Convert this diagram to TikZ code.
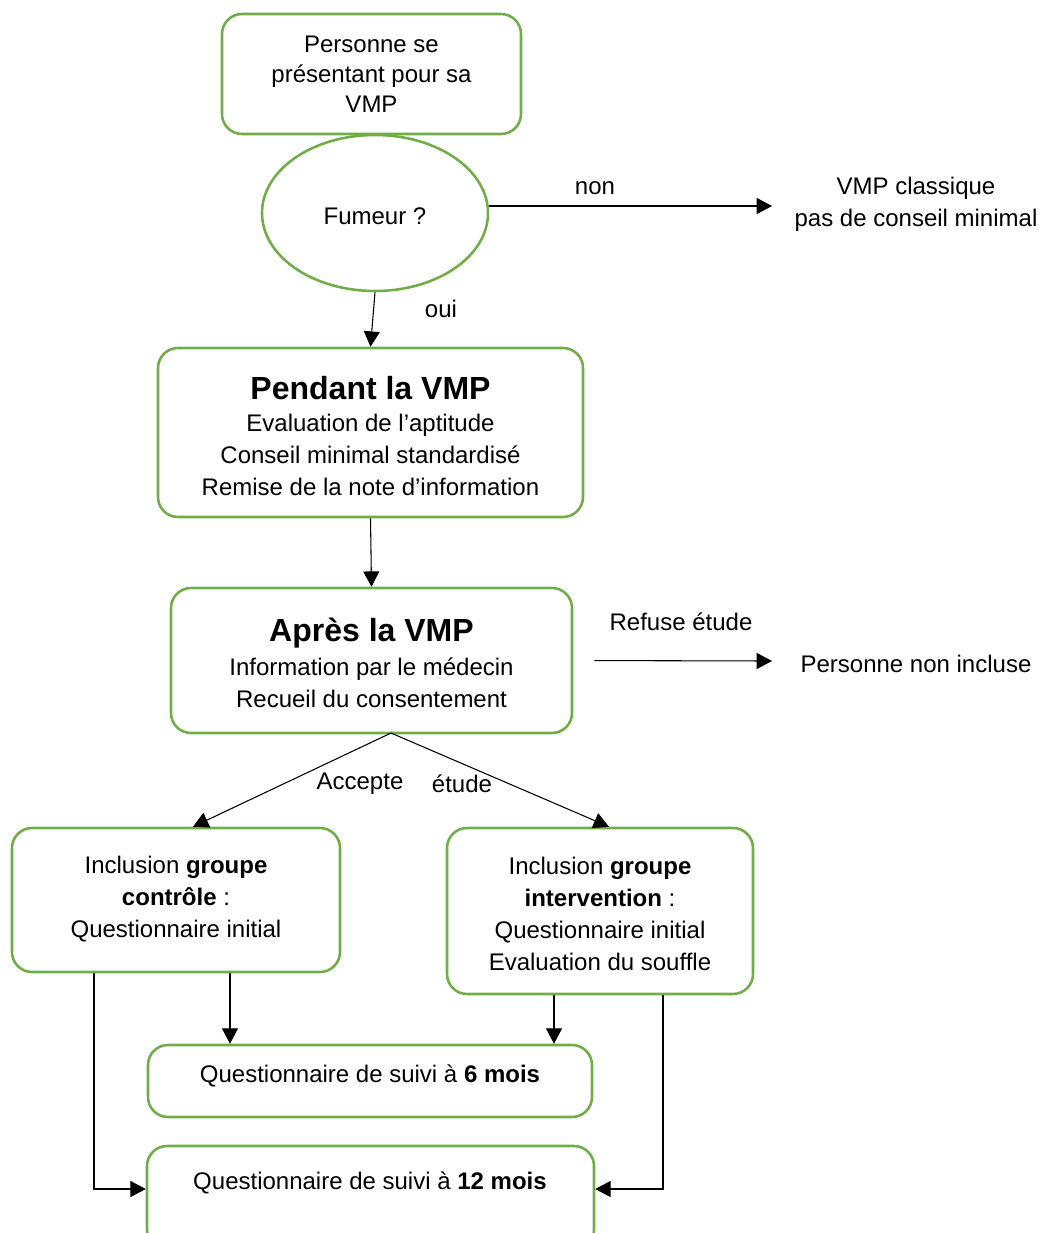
\documentclass[tikz,border=0pt]{standalone}
\usepackage{fontspec}
\setmainfont{Liberation Sans}
\usetikzlibrary{arrows.meta,shapes.geometric,calc}
\definecolor{boxgreen}{HTML}{70AD47}
\begin{document}
\begin{tikzpicture}[x=0.75pt,y=-0.75pt,
  every node/.style={font=\fontsize{18}{24}\selectfont, text=black},
  box/.style 2 args={draw=boxgreen, line width=1.9pt, rounded corners=15pt,
     minimum width=#1*0.75pt, minimum height=#2*0.75pt, inner sep=0pt, align=center},
  ell/.style={draw=boxgreen, line width=1.9pt, ellipse, minimum width=169.5pt, minimum height=117pt, inner sep=0pt},
  txt/.style={inner sep=0pt, align=center},
  arr/.style={draw=black, line width=0.8pt, -{Triangle[length=11.5pt,width=12pt]}}]
\useasboundingbox (0,0) rectangle (1043,1233);
\clip (0,0) rectangle (1043,1233);

% boxes
\node[box={299}{120}, font=\fontsize{18}{22.5}\selectfont] (b1) at (371.5,74) {Personne se\\ présentant pour sa\\ VMP};
\node[ell] (fum) at (375,213) {};
\node[txt] (tfum) at (375,216) {Fumeur ?};
\node[box={425}{169}] (b2) at (370.5,432.5) {};
\node[txt] (t2) at (370.5,436) {{\fontsize{24}{24}\selectfont\bfseries Pendant la VMP}\\ Evaluation de l’aptitude\\ Conseil minimal standardisé\\ Remise de la note d’information};
\node[box={401}{145}] (b3) at (371.5,660.5) {};
\node[txt] (t3) at (371.5,663) {{\fontsize{24}{24}\selectfont\bfseries Après la VMP}\\[2pt] Information par le médecin\\ Recueil du consentement};
\node[box={328}{144}] (b4) at (176,900) {};
\node[txt] (t4) at (176,899) {Inclusion \textbf{groupe}\\ \textbf{contrôle} :\\ Questionnaire initial};
\node[box={306}{166}] (b5) at (600,911) {};
\node[txt] (t5) at (600,914) {Inclusion \textbf{groupe}\\ \textbf{intervention} :\\ Questionnaire initial\\ Evaluation du souffle};
\node[box={444}{72}] (b6) at (370,1081) {};
\node[txt] (t6) at (370,1076) {Questionnaire de suivi à \textbf{6 mois}};
\node[box={447}{104}] (b7) at (370.5,1198) {};
\node[txt] (t7) at (370,1183) {Questionnaire de suivi à \textbf{12 mois}};

% side texts
\node[txt] (vmpc) at (916,204) {VMP classique\\ pas de conseil minimal};
\node[txt] (pni) at (916,664) {Personne non incluse};
\node[txt] (lnon) at (595,188) {non};
\node[txt] (loui) at (441,309) {oui};
\node[txt] (lref) at (681,622) {Refuse étude};
\node[txt] (lacc) at (360,784) {Accepte};
\node[txt] (letu) at (462,784) {étude};

% connectors
\coordinate (e1) at (772,206);
\coordinate (e2) at (772,661);
\coordinate (apex) at (391,733);
\coordinate (s4a) at ($(b4.south)+(54,0)$);
\coordinate (s5a) at ($(b5.south)+(-46,0)$);
\coordinate (s4b) at ($(b4.south)+(-82,0)$);
\coordinate (s5b) at ($(b5.south)+(63,0)$);
\coordinate (w7) at ($(b7.west)+(0,-9)$);
\coordinate (e7) at ($(b7.east)+(0,-9)$);
\draw[arr] ($(fum.east)+(0,-7)$) -- (e1);
\draw[arr] (fum.south) -- (b2.north);
\draw[arr] (b2.south) -- (b3.north);
\draw[arr, shorten <=15.75pt] (b3.east) -- (e2);
\draw[arr] (apex) -- ($(b4.north)+(17,0)$);
\draw[arr] (apex) -- ($(b5.north)+(9,0)$);
\draw[arr] (s4a) -- (s4a |- b6.north);
\draw[arr] (s5a) -- (s5a |- b6.north);
\draw[arr] (s4b) |- (w7);
\draw[arr] (s5b) |- (e7);
\end{tikzpicture}
\end{document}
